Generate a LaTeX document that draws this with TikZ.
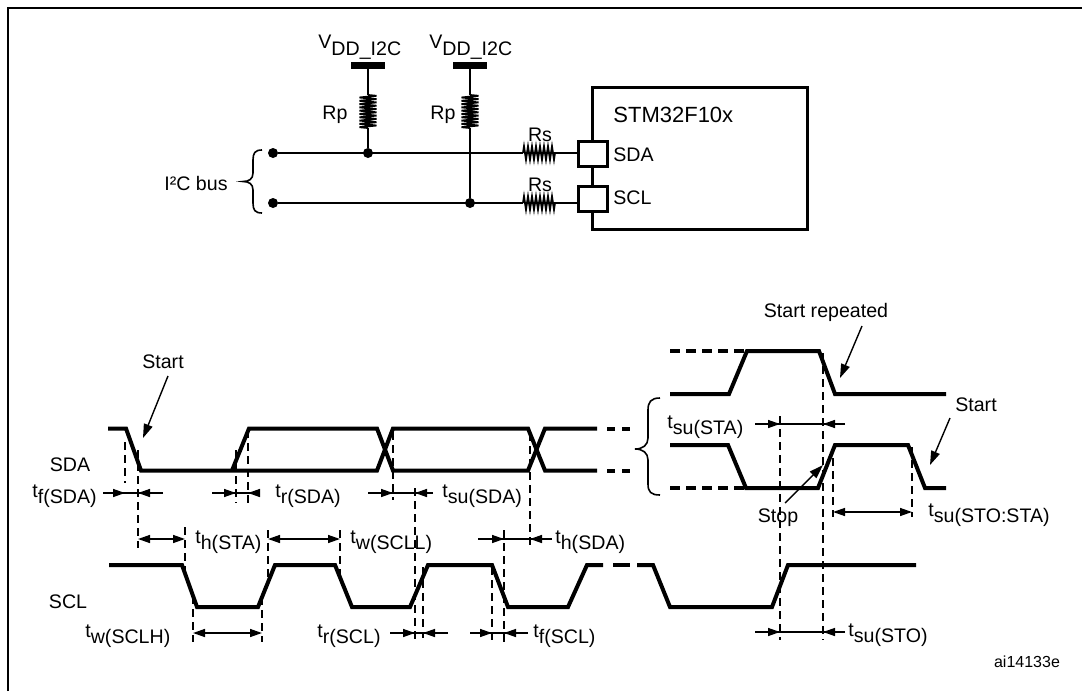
\documentclass[tikz,border=0pt]{standalone}
\usepackage{fontspec}
\setmainfont{Liberation Sans}
\usetikzlibrary{arrows.meta}
\newcommand\tlab[1]{t\raisebox{-3pt}{#1}}
\begin{document}
\begin{tikzpicture}[x=0.5pt,y=-0.5pt,
  font=\fontsize{9.8}{11}\selectfont,
  wave/.style={line width=2pt},
  thinw/.style={line width=0.8pt},
  coil/.style={line width=0.9pt},
  vdash/.style={line width=1pt,dash pattern=on 4pt off 2.5pt},
  vdashthin/.style={line width=0.6pt,dash pattern=on 4pt off 2.5pt},
  wdash/.style={line width=2pt,dash pattern=on 5pt off 3pt},
  dim/.style={line width=0.7pt},
  tip/.style={line width=0.7pt,-{Triangle[length=6pt,width=4pt]}},
  both/.style={line width=0.7pt,{Triangle[length=6pt,width=4pt]}-{Triangle[length=6pt,width=4pt]}},
  callout/.style={line width=0.7pt,-{Triangle[length=7pt,width=4.5pt]}},
  lbl/.style={inner sep=0pt,anchor=base west},
  dot/.style={circle,fill=black,inner sep=0pt,minimum size=5pt}]
\useasboundingbox (0,0) rectangle (1082,691);
% frame
\draw[line width=1.2pt] (8,691) -- (8,8) -- (1082,8);

% ---------------- circuit ----------------
\node[lbl] (vdd1) at (318,48) {V\raisebox{-3.5pt}{DD\_I2C}};
\node[lbl] (vdd2) at (429,48) {V\raisebox{-3.5pt}{DD\_I2C}};
\fill (351,62) rectangle (385,68.5);
\fill (453,62) rectangle (487,68.5);
\coordinate (c1) at (368,68);
\coordinate (c2) at (470,68);
\node[dot] (d1) at (273,153) {};
\node[dot] (d2) at (273,203) {};
\node[dot] (j1) at (368,153) {};
\node[dot] (j2) at (470,203) {};
\draw[thinw] (c1) -- (368,95);
\draw[coil] (368,95)
  foreach \i in {1,...,10}{ -- ++(8.5,0.8) -- ++(-17,1.7) -- ++(8.5,0.8) };
\draw[thinw] (368,128) -- (j1);
\draw[thinw] (c2) -- (470,95);
\draw[coil] (470,95)
  foreach \i in {1,...,10}{ -- ++(8.5,0.8) -- ++(-17,1.7) -- ++(8.5,0.8) };
\draw[thinw] (470,128) -- (j2);
\node (rp1) at (335,115) {Rp};
\node (rp2) at (443,115) {Rp};
\draw[thinw] (d1) -- (523,153);
\draw[coil] (523,153)
  foreach \i in {1,...,8}{ -- ++(1,-6.5) -- ++(2,13) -- ++(1,-6.5) } -- (578,153);
\draw[thinw] (d2) -- (523,203);
\draw[coil] (523,203)
  foreach \i in {1,...,8}{ -- ++(1,-6.5) -- ++(2,13) -- ++(1,-6.5) } -- (578,203);
\node[anchor=base,inner sep=0pt] (rs1) at (540,141) {Rs};
\node[anchor=base,inner sep=0pt] (rs2) at (540,191) {Rs};
\draw[line width=1.5pt] (592,87) rectangle (807,229);
\draw[line width=1.5pt,fill=white] (578,141) rectangle (607,166);
\draw[line width=1.5pt,fill=white] (578,186) rectangle (607,211);
\node[anchor=west,inner sep=0pt,font=\fontsize{11}{13}\selectfont] (chip) at (613,115) {STM32F10x};
\node[anchor=west,inner sep=0pt] (sdap) at (613,155) {SDA};
\node[anchor=west,inner sep=0pt] (sclp) at (613,198) {SCL};
\draw[thinw] (262,150) .. controls (255,150) and (253,153) .. (253,160)
  -- (253,173) .. controls (253,179) and (249,181.5) .. (243,181.5)
  .. controls (249,181.5) and (253,184) .. (253,190)
  -- (253,203) .. controls (253,210) and (255,213) .. (262,213);
\node (bus) at (196,183) {I²C bus};

% ---------------- timing: SDA left ----------------
\node (sdal) at (70,465) {SDA};
\node (scll) at (68,602) {SCL};
\draw[wave] (108,428.5) -- (126,428.5) -- (141,470.5) -- (377,470.5) -- (393,428.5)
  -- (528,428.5) -- (545,470.5) -- (597,470.5);
\draw[wave] (232,470.5) -- (249,428.5) -- (377,428.5) -- (393,470.5)
  -- (528,470.5) -- (545,428.5) -- (597,428.5);
\foreach \y in {428.5,470.5}{
  \draw[wave] (607,\y) -- (615,\y);
  \draw[wave] (622,\y) -- (630,\y);}
% SCL
\draw[wave] (109,565) -- (182,565) -- (197,607) -- (258,607) -- (275,565) -- (335,565)
  -- (352,607) -- (410,607) -- (428,565) -- (492,565) -- (508,607) -- (568,607)
  -- (587,565) -- (603,565);
\draw[wave] (613,565) -- (630,565);
\draw[wave] (637,565) -- (653,565) -- (670,607) -- (772,607) -- (788,565) -- (916,565);

% right SDA
\draw[wdash] (670,351) -- (747,351);
\draw[wave] (670,394) -- (729,394) -- (747,351) -- (819,351) -- (835,394) -- (946,394);
\draw[wave] (670,445) -- (728,445) -- (746,488) -- (818,488) -- (835,445) -- (908,445) -- (925,488) -- (946,488);
\draw[wdash] (670,488) -- (746,488);
\draw[thinw] (660,398) .. controls (651,398) and (648,402) .. (648,410)
  -- (648,438) .. controls (648,445) and (643,449) .. (635,449)
  .. controls (643,449) and (648,453) .. (648,460)
  -- (648,484) .. controls (648,492) and (651,495) .. (660,495);

% dashed verticals
\draw[vdash] (125,442) -- (125,483);
\draw[vdash] (138,450) -- (138,548);
\draw[vdash] (236,450) -- (236,503);
\draw[vdash] (248,430) -- (248,503);
\draw[vdashthin] (393,432) -- (393,500);
\draw[vdash] (415,488) -- (415,640);
\draw[vdashthin] (530,433) -- (530,547);
\draw[vdash] (504,530) -- (504,645);
\draw[vdash] (185,527) -- (185,573);
\draw[vdash] (268,530) -- (268,582);
\draw[vdash] (340,530) -- (340,577);
\draw[vdash] (193,596) -- (193,642);
\draw[vdash] (262,597) -- (262,642);
\draw[vdash] (423,567) -- (423,638);
\draw[vdash] (492,567) -- (492,640);
\draw[vdash] (780,416) -- (780,640);
\draw[vdash] (823,353) -- (823,640);
\draw[vdash] (833,458) -- (833,517);
\draw[vdash] (912,447) -- (912,517);

% dimension arrows (inward)
\foreach \a/\b/\c/\d/\y in {103/125/163/138/493, 212/236/257/248/493, 368/393/433/415/493,
   478/504/552/530/539, 390/415/448/423/633, 470/492/528/504/633,
   755/780/845/823/424, 755/780/845/823/632}{
  \draw[dim] (\a,\y) -- (\c,\y);
  \draw[tip] (\a,\y) -- (\b,\y);
  \draw[tip] (\c,\y) -- (\d,\y);}
% dimension arrows (between)
\draw[both] (138,539) -- (185,539);
\draw[both] (268,539) -- (340,539);
\draw[both] (193,633) -- (262,633);
\draw[both] (833,512) -- (912,512);

% labels
\node[lbl] (tf) at (32,497) {\tlab{f(SDA)}};
\node[lbl] (tr) at (275,497) {\tlab{r(SDA)}};
\node[lbl] (tsu) at (442,497) {\tlab{su(SDA)}};
\node[lbl] (thsta) at (195,543) {\tlab{h(STA)}};
\node[lbl] (twscll) at (350,543) {\tlab{w(SCLL)}};
\node[lbl] (thsda) at (555,543) {\tlab{h(SDA)}};
\node[lbl] (twsclh) at (85,637) {\tlab{w(SCLH)}};
\node[lbl] (trscl) at (317,637) {\tlab{r(SCL)}};
\node[lbl] (tfscl) at (533,637) {\tlab{f(SCL)}};
\node[lbl] (tsusto) at (848,636) {\tlab{su(STO)}};
\node[lbl] (tsusta) at (667,428) {\tlab{su(STA)}};
\node[lbl] (tsustosta) at (928,516) {\tlab{su(STO:STA)}};

\node (start1) at (163,362) {Start};
\coordinate (s1) at (143,438);
\draw[callout] (168,376) -- (s1);
\node (startrep) at (826,312) {Start repeated};
\coordinate (s2) at (840,378);
\draw[callout] (862,326) -- (s2);
\node (start2) at (976,405) {Start};
\coordinate (s3) at (930,465);
\draw[callout] (950,418) -- (s3);
\node (stop) at (778,518) {Stop};
\coordinate (s4) at (823,465);
\draw[callout] (785,503) -- (s4);
\node[font=\fontsize{8}{10}\selectfont] (ai) at (1027,662) {ai14133e};
\end{tikzpicture}
\end{document}
